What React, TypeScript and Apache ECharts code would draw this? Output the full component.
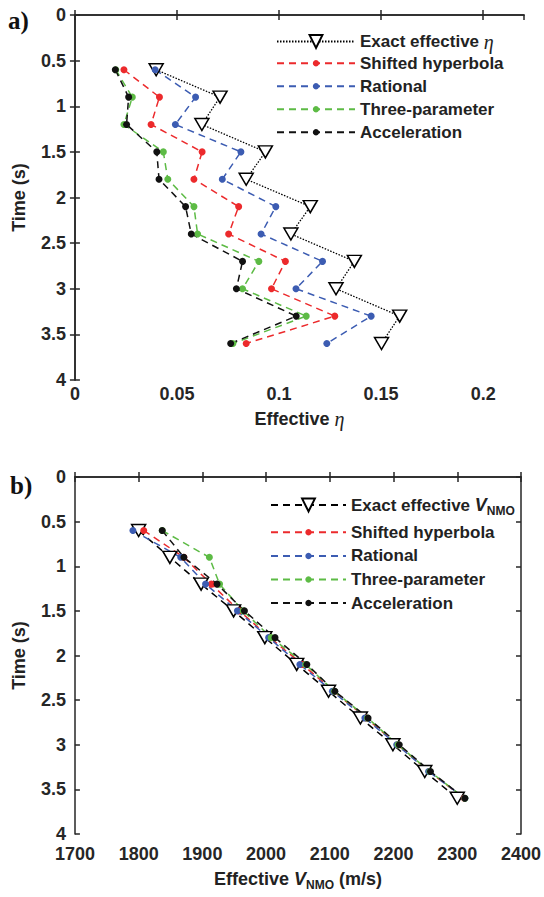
import React, { useEffect, useRef } from 'react';
import * as echarts from 'echarts';

// ---- data ----
const times = [0.6, 0.9, 1.2, 1.5, 1.8, 2.1, 2.4, 2.7, 3.0, 3.3, 3.6];

const etaExact = [0.0398, 0.0711, 0.0622, 0.0933, 0.0839, 0.1153, 0.1058, 0.1369, 0.1279, 0.1591, 0.1502];
const etaShifted = [0.024, 0.0414, 0.0373, 0.0623, 0.0583, 0.0802, 0.0753, 0.1031, 0.0963, 0.1273, 0.0839];
const etaRational = [0.0393, 0.0591, 0.0492, 0.0813, 0.0722, 0.0984, 0.0912, 0.1213, 0.1083, 0.1451, 0.1234];
const etaThree = [0.02, 0.0281, 0.024, 0.0433, 0.0455, 0.0583, 0.0601, 0.0901, 0.0821, 0.1133, 0.0774];
const etaAccel = [0.0198, 0.0263, 0.0253, 0.0401, 0.0412, 0.0542, 0.057, 0.0821, 0.0791, 0.1084, 0.0763];

const vExact = [1800, 1849, 1898, 1949, 1998, 2048, 2098, 2148, 2199, 2249, 2300];
const vShifted = [1808, 1871, 1914, 1958, 2006, 2057, 2106, 2157, 2206, 2256, 2311];
const vRational = [1791, 1866, 1905, 1955, 2004, 2053, 2104, 2155, 2205, 2255, 2312];
const vThree = [1837, 1911, 1927, 1964, 2008, 2062, 2107, 2159, 2207, 2257, 2312];
const vAccel = [1837, 1871, 1923, 1966, 2014, 2064, 2108, 2160, 2209, 2258, 2312];

const legendNames = ['Shifted hyperbola', 'Rational', 'Three-parameter', 'Acceleration'];
const exactEtaName = 'Exact effective η';
const exactVName = 'Exact effective VNMO';

const colors = { red: '#ec2a2c', blue: '#3c5cb2', green: '#5dbb45', black: '#111111' };

const FONT = '"Liberation Sans", Arial, sans-serif';
const AX = '#262626';

function pairs(xs: number[]) {
  return xs.map((x, i) => [x, times[i]]);
}

function dotSeries(name: string, xs: number[], color: string, axis: number) {
  return {
    name,
    type: 'line',
    xAxisIndex: axis,
    yAxisIndex: axis,
    data: pairs(xs),
    symbol: 'circle',
    symbolSize: 7,
    lineStyle: { color, width: 1.5, type: [7, 5] },
    itemStyle: { color },
    emphasis: { disabled: true },
  };
}

function exactSeries(name: string, xs: number[], axis: number, dotted: boolean) {
  return {
    name,
    type: 'line',
    xAxisIndex: axis,
    yAxisIndex: axis,
    data: pairs(xs),
    symbol: 'triangle',
    symbolRotate: 180,
    symbolSize: [14, 12],
    lineStyle: dotted
      ? { color: '#000', width: 1.3, type: [1.5, 1.5] }
      : { color: '#000', width: 1.5, type: [7, 5] },
    itemStyle: { color: '#fff', borderColor: '#000', borderWidth: 1.5 },
    emphasis: { disabled: true },
  };
}

const richStyles = {
  e: { fontFamily: '"Liberation Serif", serif', fontStyle: 'italic', fontWeight: 'normal', fontSize: 20, lineHeight: 22, color: '#222' },
  v: { fontFamily: FONT, fontStyle: 'italic', fontWeight: 'bold', fontSize: 18, lineHeight: 22, color: '#222' },
  s: { fontFamily: FONT, fontWeight: 'bold', fontSize: 12, lineHeight: 12, padding: [12, 0, 0, 0], color: '#222' },
};

function xAxes(grid: number, min: number, max: number, interval: number, name: string, nameGap: number, margin: number) {
  const line = { lineStyle: { color: AX, width: 1.5 } };
  const tick = { inside: true, length: 5, lineStyle: { color: AX, width: 1.5 } };
  return [
    {
      type: 'value', gridIndex: grid, position: 'bottom', min, max, interval,
      axisLine: { show: true, ...line }, axisTick: tick, splitLine: { show: false },
      axisLabel: {
        fontFamily: FONT, fontWeight: 'bold', fontSize: 18, color: AX, margin,
        showMaxLabel: max % interval < 1e-9,
        formatter: (v: number) => String(Math.round(v * 1000) / 1000),
      },
      name, nameLocation: 'middle', nameGap,
      nameTextStyle: { fontFamily: FONT, fontWeight: 'bold', fontSize: 18, color: '#222', lineHeight: 22, rich: richStyles },
    },
    {
      type: 'value', gridIndex: grid, position: 'top', min, max, interval,
      axisLine: { show: true, ...line }, axisTick: tick, splitLine: { show: false },
      axisLabel: { show: false },
    },
  ];
}

function yAxes(grid: number) {
  const line = { lineStyle: { color: AX, width: 1.5 } };
  const tick = { inside: true, length: 5, lineStyle: { color: AX, width: 1.5 } };
  return [
    {
      type: 'value', gridIndex: grid, position: 'left', inverse: true, min: 0, max: 4, interval: 0.5,
      axisLine: { show: true, ...line }, axisTick: tick, splitLine: { show: false },
      axisLabel: { fontFamily: FONT, fontWeight: 'bold', fontSize: 18, color: AX, margin: 9 },
      name: 'Time (s)', nameLocation: 'middle', nameGap: 39,
      nameTextStyle: { fontFamily: FONT, fontWeight: 'bold', fontSize: 18, color: '#222', lineHeight: 22 },
    },
    {
      type: 'value', gridIndex: grid, position: 'right', inverse: true, min: 0, max: 4, interval: 0.5,
      axisLine: { show: true, ...line }, axisTick: tick, splitLine: { show: false },
      axisLabel: { show: false },
    },
  ];
}

const legendText = {
  fontFamily: FONT, fontWeight: 'bold', fontSize: 17, color: '#222', lineHeight: 20,
  rich: richStyles,
};

function fmt(name: string) {
  if (name === exactEtaName) return 'Exact effective {e|η}';
  if (name === exactVName) return 'Exact effective {v|V}{s|NMO}';
  return name;
}

export default function App() {
  const ref = useRef<HTMLDivElement>(null);
  useEffect(() => {
    if (!ref.current) return;
    const chart = echarts.init(ref.current, null, { renderer: 'svg' });
    const xa = [
      ...xAxes(0, 0, 0.22, 0.05, 'Effective {e|η}', 28, 5),
      ...xAxes(1, 1700, 2400, 100, 'Effective {v|V}{s|NMO} (m/s)', 34, 11),
    ];
    // series axis indices: grid0 uses x0/y0, grid1 uses x2/y2
    const ya = [...yAxes(0), ...yAxes(1)];
    const topSeries = [
      exactSeries(exactEtaName, etaExact, 0, true),
      dotSeries('Shifted hyperbola', etaShifted, colors.red, 0),
      dotSeries('Rational', etaRational, colors.blue, 0),
      dotSeries('Three-parameter', etaThree, colors.green, 0),
      dotSeries('Acceleration', etaAccel, colors.black, 0),
    ];
    const botSeries = [
      exactSeries(exactVName, vExact, 2, false),
      dotSeries('Shifted hyperbola ', vShifted, colors.red, 2),
      dotSeries('Rational ', vRational, colors.blue, 2),
      dotSeries('Three-parameter ', vThree, colors.green, 2),
      dotSeries('Acceleration ', vAccel, colors.black, 2),
    ];
    const legendBase = {
      orient: 'vertical', padding: 0, selectedMode: false, textStyle: legendText,
      formatter: (n: string) => fmt(n.trim()),
    };
    chart.setOption({
      animation: false,
      backgroundColor: '#fff',
      grid: [
        { left: 72, top: 15, width: 452, height: 365 },
        { left: 72, top: 477, width: 452, height: 357 },
      ],
      xAxis: xa,
      yAxis: ya,
      legend: [
        { ...legendBase, left: 276, top: 30.5, itemWidth: 78, itemHeight: 16, itemGap: 3, data: [exactEtaName] },
        { ...legendBase, left: 276, top: 53.3, itemWidth: 78, itemHeight: 8, itemGap: 3, data: legendNames },
        { ...legendBase, left: 270, top: 493, itemWidth: 75, itemHeight: 16, itemGap: 3, data: [exactVName] },
        { ...legendBase, left: 270, top: 522.3, itemWidth: 75, itemHeight: 8, itemGap: 3.6, data: legendNames.map((n) => n + ' ') },
      ],
      graphic: [
        { type: 'text', left: 8, top: 8, style: { text: 'a)', font: 'bold 25px "Liberation Serif"', fill: '#111' } },
        { type: 'text', left: 10, top: 473, style: { text: 'b)', font: 'bold 25px "Liberation Serif"', fill: '#111' } },
      ],
      series: [...topSeries, ...botSeries],
    });
    return () => chart.dispose();
  }, []);
  return <div ref={ref} style={{ position: 'fixed', left: 0, top: 0, width: 544, height: 897 }} />;
}
